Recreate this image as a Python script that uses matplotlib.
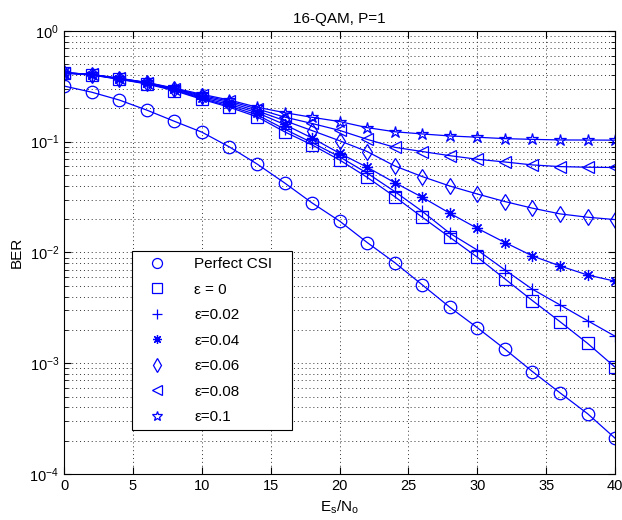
import matplotlib
matplotlib.use("Agg")
import matplotlib.pyplot as plt
import numpy as np

plt.rcParams['font.family'] = ['Liberation Sans', 'DejaVu Sans']

snr = np.arange(0, 41, 2)

# BER curves
ber_perfect = [0.318, 0.28, 0.238, 0.193, 0.153, 0.122, 0.0897, 0.063, 0.0425, 0.028,
               0.0192, 0.0123, 0.0081, 0.0051, 0.0032, 0.00209, 0.00134, 0.00084,
               0.00054, 0.00035, 0.00021]
ber_e0 = [0.415, 0.40, 0.366, 0.332, 0.289, 0.2415, 0.2046, 0.168, 0.123, 0.0935,
          0.0684, 0.0477, 0.0319, 0.0208, 0.0137, 0.00905, 0.00577, 0.00367,
          0.00237, 0.00151, 0.00092]
ber_e002 = [0.418, 0.402, 0.368, 0.335, 0.293, 0.245, 0.21, 0.175, 0.13, 0.098,
            0.073, 0.052, 0.0355, 0.0235, 0.0149, 0.0105, 0.00695, 0.00465,
            0.00336, 0.00242, 0.00175]
ber_e004 = [0.42, 0.403, 0.37, 0.338, 0.297, 0.25, 0.217, 0.183, 0.143, 0.108,
            0.0786, 0.0588, 0.0427, 0.0315, 0.0226, 0.0165, 0.0123, 0.0093,
            0.00755, 0.00626, 0.0055]
ber_e006 = [0.42, 0.404, 0.372, 0.34, 0.3, 0.256, 0.225, 0.19, 0.155, 0.126,
            0.102, 0.0815, 0.0604, 0.0484, 0.0398, 0.0337, 0.0288, 0.0251,
            0.0223, 0.0208, 0.0198]
ber_e008 = [0.42, 0.405, 0.373, 0.342, 0.302, 0.262, 0.232, 0.198, 0.167, 0.146,
            0.1265, 0.105, 0.089, 0.0815, 0.0748, 0.0694, 0.0656, 0.0617,
            0.0596, 0.0588, 0.0585]
ber_e01 = [0.42, 0.405, 0.374, 0.343, 0.305, 0.268, 0.238, 0.205, 0.183, 0.166,
           0.152, 0.134, 0.123, 0.1175, 0.1127, 0.1097, 0.1066, 0.105,
           0.1037, 0.1035, 0.1033]

series = [ber_perfect, ber_e0, ber_e002, ber_e004, ber_e006, ber_e008, ber_e01]
labels = ['Perfect CSI', 'ε = 0', 'ε=0.02', 'ε=0.04', 'ε=0.06', 'ε=0.08', 'ε=0.1']
markers = ['o', 's', '+', (8, 2, 0), 'd', '<', '*']
sizes = [9, 8.5, 9, 8, 8.5, 9, 9]

fig = plt.figure(figsize=(6.22, 5.2), dpi=100)
ax = fig.add_axes([0.103, 0.0885, 0.886, 0.852])

blue = '#0000ff'
for y, lab, m, s in zip(series, labels, markers, sizes):
    ax.semilogy(snr, y, color=blue, lw=0.9, marker=m, ms=s, mew=0.9,
                mfc='none', mec=blue, label=lab)

ax.set_xlim(0, 40)
ax.set_ylim(1e-4, 1)
ax.set_xticks(np.arange(0, 41, 5))
ax.grid(True, which='major', ls=(0, (1, 3)), color='0.2', lw=0.7)
ax.grid(True, which='minor', ls=(0, (1, 3)), color='0.2', lw=0.7)
ax.tick_params(which='both', direction='in', top=True, right=True, labelsize=10.5)
ax.tick_params(which='major', length=5)
ax.tick_params(which='minor', length=3)
for sp in ax.spines.values():
    sp.set_linewidth(0.8)

ax.set_title('16-QAM, P=1', fontsize=11)
ax.set_xlabel(r'$\mathregular{E_s/N_o}$', fontsize=11)
ax.set_ylabel('BER', fontsize=11)

leg = ax.legend(loc='lower left', bbox_to_anchor=(0.123, 0.099, 0.29, 0.40),
                mode='expand', borderaxespad=0, fancybox=False, framealpha=1,
                edgecolor='k', fontsize=11, handlelength=2.5, labelspacing=0.75,
                handletextpad=1.2, markerscale=0.8)
for line in leg.get_lines():
    line.set_linestyle('none')
leg.get_frame().set_linewidth(0.8)

fig.savefig('out.png', dpi=100)
